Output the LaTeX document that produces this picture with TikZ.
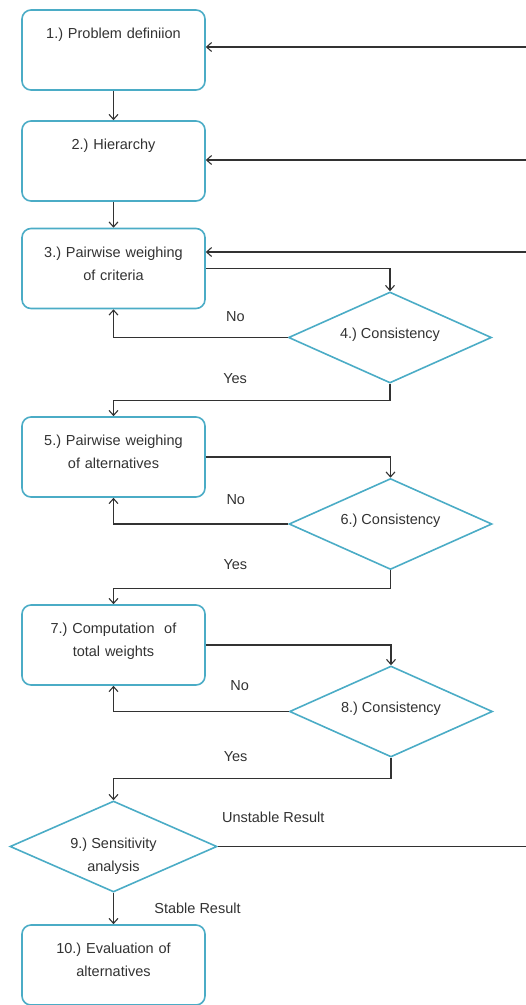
\documentclass[tikz,border=0pt]{standalone}
\usepackage{fontspec}
\setmainfont{Liberation Sans}
\usepackage{tikz}
\usetikzlibrary{shapes.geometric,arrows.meta}
\definecolor{boxblue}{RGB}{75,172,198}
\definecolor{linegray}{RGB}{50,50,50}
\frenchspacing

\begin{document}
\begin{tikzpicture}[x=1pt,y=-1pt,
    font=\fontsize{14.5}{23}\selectfont,
    >={Straight Barb[length=5pt,width=9pt]},
    color=linegray, line width=1.1pt,
    stepbox/.style={draw=boxblue, line width=1.6pt, rounded corners=9pt,
        minimum width=183pt, minimum height=80pt, text width=175pt, align=center,
        inner ysep=0pt, text height=28.5pt, text depth=51.5pt},
    checkbox/.style={diamond, draw=boxblue, line width=1.6pt, aspect=2.2,
        inner sep=0pt, minimum width=203pt, minimum height=91pt, align=center,
        text height=8pt, text depth=6.6pt},
    lbl/.style={anchor=south}]
    \useasboundingbox (0,0) rectangle (526,1005);

    % steps
    \node[stepbox] (p1) at (113.5,50) {1.) Problem definiion};
    \node[stepbox] (p2) at (113.5,161) {2.) Hierarchy};
    \node[stepbox] (p3) at (113.5,268.5) {3.) Pairwise weighing\\of criteria};
    \node[checkbox] (d4) at (390,337.5) {4.) Consistency};
    \node[stepbox] (p5) at (113.5,457) {5.) Pairwise weighing\\of alternatives};
    \node[checkbox] (d6) at (390.5,524) {6.) Consistency};
    \node[stepbox] (p7) at (113.5,645) {7.) Computation~ of\\total weights};
    \node[checkbox] (d8) at (391,711.5) {8.) Consistency};
    \node[checkbox, aspect=2.3, minimum width=207pt, text height=49pt, text depth=0pt] (d9)
        at (113.5,846.5) {9.) Sensitivity\\analysis};
    \node[stepbox] (p10) at (113.5,965) {10.) Evaluation of\\alternatives};

    % return points at the right edge
    \coordinate (ret1) at (526,47);
    \coordinate (ret2) at (526,160);
    \coordinate (ret3) at (526,252);
    \coordinate (ret9) at (526,846.5);

    % main flow
    \draw[->] (p1) -- (p2);
    \draw[->] (p2) -- (p3);
    \draw[->] (p3.east) -| (d4.north);
    \draw[->] (d4.west) -| node[lbl, yshift=12pt, pos=0.15] {No} (p3.south);
    \draw[->] (d4.south) -- ++(0,17) -| node[lbl, yshift=13pt, pos=0.28] {Yes} (p5.north);
    \draw[->] (p5.east) -| (d6.north);
    \draw[->] (d6.west) -| node[lbl, yshift=15pt, pos=0.15] {No} (p5.south);
    \draw[->] (d6.south) -- ++(0,18) -| node[lbl, yshift=15pt, pos=0.28] {Yes} (p7.north);
    \draw[->] (p7.east) -| (d8.north);
    \draw[->] (d8.west) -| node[lbl, yshift=17pt, pos=0.14] {No} (p7.south);
    \draw[->] (d8.south) -- ++(0,21) -| node[lbl, yshift=13pt, pos=0.28] {Yes} (d9.north);
    \draw[->] (d9.south) -- node[anchor=west, xshift=37pt] {Stable Result} (p10.north);

    % unstable result goes back
    \draw (d9.east) -- node[lbl, yshift=20pt, pos=0.18] {Unstable Result} (ret9);
    \draw[->] (ret1) -- (ret1 -| p1.east);
    \draw[->] (ret2) -- (ret2 -| p2.east);
    \draw[->] (ret3) -- (ret3 -| p3.east);
\end{tikzpicture}
\end{document}
